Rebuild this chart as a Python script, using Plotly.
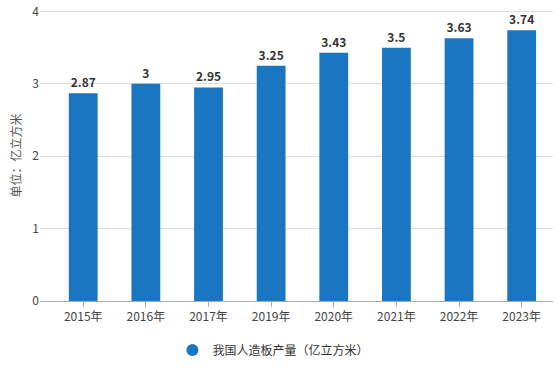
import plotly.graph_objects as go

categories = ["2015年", "2016年", "2017年", "2019年", "2020年", "2021年", "2022年", "2023年"]
values = [2.87, 3, 2.95, 3.25, 3.43, 3.5, 3.63, 3.74]
labels = ["2.87", "3", "2.95", "3.25", "3.43", "3.5", "3.63", "3.74"]
series_name = "我国人造板产量（亿立方米）"
y_title = "单位：亿立方米"
y_ticks = [0, 1, 2, 3, 4]

FONT = "Noto Sans CJK SC, Microsoft YaHei, sans-serif"
BAR = "#1a76c0"

fig = go.Figure()
fig.add_trace(go.Bar(
    x=categories, y=values, name=series_name, showlegend=False,
    marker=dict(color=BAR, line=dict(width=0)),
    text=labels, textposition="outside", cliponaxis=False,
    textfont=dict(family=FONT, size=12, color="#333333", weight="bold"),
))
# legend entry with round marker
fig.add_trace(go.Scatter(
    x=[None], y=[None], mode="markers", name=series_name,
    marker=dict(symbol="circle", size=11, color=BAR),
))
fig.update_layout(
    width=558, height=383,
    margin=dict(l=40, r=5, t=10, b=82, autoexpand=False),
    paper_bgcolor="white", plot_bgcolor="white",
    bargap=0.54,
    font=dict(family=FONT, size=12, color="#444444"),
    showlegend=True,
    legend=dict(orientation="h", x=0.455, xanchor="center", y=-0.168, yanchor="middle",
                font=dict(size=12, color="#333333"), itemsizing="constant"),
    xaxis=dict(range=[-0.69, 7.5], showline=True, linecolor="#aaaaaa", linewidth=1, automargin=False,
               ticks="outside", ticklen=5, tickcolor="#aaaaaa",
               tickfont=dict(size=12, color="#444444"), showgrid=False),
    yaxis=dict(range=[0, 4.02], tickvals=y_ticks, showgrid=True, gridcolor="#dddddd",
               zeroline=False, showline=False, ticks="", automargin=False,
               tickfont=dict(size=12, color="#444444"),
               title=dict(text=y_title, font=dict(size=12, color="#555555"), standoff=8)),
)
fig.write_html("out.html", config={"displayModeBar": False},
               post_script="document.body.style.margin='0';")
